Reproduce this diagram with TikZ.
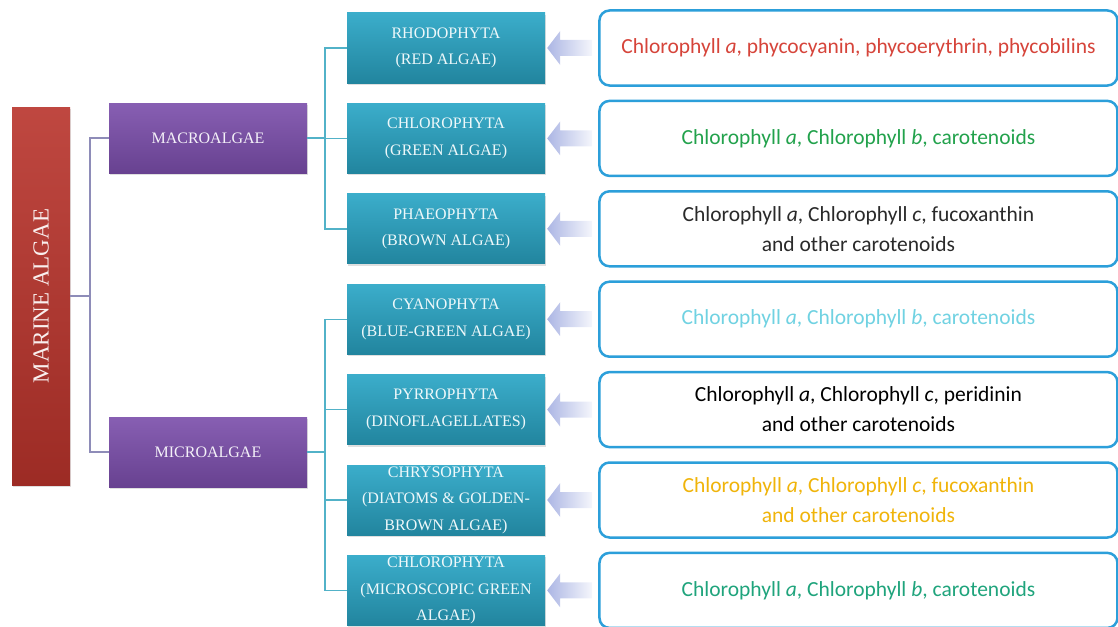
\documentclass[tikz,border=0pt]{standalone}
\usepackage{fontspec}
\setmainfont{Liberation Serif}
\newfontfamily\pigfont{Carlito}
\usetikzlibrary{positioning,shadows,calc}

\definecolor{algred}{HTML}{B8332B}
\definecolor{algviolet}{HTML}{7A4DAA}
\definecolor{algteal}{HTML}{2AA6C6}
\definecolor{boxblue}{HTML}{2C9FDA}
\definecolor{arrowblue}{HTML}{ACB6E4}
\definecolor{treeviolet}{HTML}{8E8CB8}
\definecolor{treeteal}{HTML}{52B2C8}
\definecolor{pigred}{HTML}{D6443A}
\definecolor{piggreen}{HTML}{22A24C}
\definecolor{pigdark}{HTML}{2A2A2A}
\definecolor{pigcyan}{HTML}{70D2E2}
\definecolor{piggold}{HTML}{F0B40A}
\definecolor{pigteal}{HTML}{1FA47C}

% fat arrow from pigment box #2 back to phylum box #1
\newcommand{\fatarrow}[2]{%
  \shade[left color=arrowblue, right color=arrowblue!12]
    ($(#1.east)+(2,0)$) -- ++(13,-17) -- ++(0,9)
    -- ($(#2.west)+(-6,-8)$) -- ++(0,16)
    -- ($(#1.east)+(15,8)$) -- ++(0,9) -- cycle;}

\begin{document}
\begin{tikzpicture}[%
    x=1pt, y=-1pt,
    node distance=20pt,
    kingdom/.style={%
      top color=algred!90!white,
      bottom color=algred!85!black,
      minimum width=58pt,
      minimum height=378pt,
      inner sep=0pt,
      text=white!92!algred,
      font=\fontsize{23}{26}\selectfont,
      drop shadow={opacity=.25,shadow xshift=1pt,shadow yshift=-2pt}},
    group/.style={%
      top color=algviolet!90!white,
      bottom color=algviolet!85!black,
      minimum width=198pt,
      minimum height=70pt,
      inner sep=0pt,
      text=white!92!algviolet,
      font=\fontsize{16}{20}\selectfont,
      drop shadow={opacity=.25,shadow xshift=1pt,shadow yshift=-2pt}},
    phylum/.style={%
      top color=algteal!92!white,
      bottom color=algteal!80!black,
      minimum width=198pt,
      minimum height=70pt,
      inner sep=0pt,
      align=center,
      text=white!92!algteal,
      font=\fontsize{16}{26.5}\selectfont,
      drop shadow={opacity=.25,shadow xshift=1pt,shadow yshift=-2pt}},
    pigbox/.style={%
      draw=boxblue,
      line width=2.5pt,
      rounded corners=10pt,
      fill=white,
      minimum width=518pt,
      minimum height=75pt,
      align=center,
      font=\pigfont\fontsize{21.5}{30}\selectfont},
    treeline/.style={draw=treeviolet, line width=1.4pt},
    subline/.style={draw=treeteal, line width=1.4pt}
    ]
    \useasboundingbox (0,0) rectangle (1118,626);

    \node[kingdom] (marine) at (41,296) {\rotatebox{90}{MARINE ALGAE}};
    \node[group] (macro) at (208,138) {MACROALGAE};
    \node[group] (micro) at (208,452) {MICROALGAE};

    \node[phylum] (rho) at (446,48) {RHODOPHYTA\\(RED ALGAE)};
    \node[phylum] (chl) [below=of rho] {CHLOROPHYTA\\(GREEN ALGAE)};
    \node[phylum] (pha) [below=of chl] {PHAEOPHYTA\\(BROWN ALGAE)};
    \node[phylum] (cya) [below=of pha] {CYANOPHYTA\\(BLUE-GREEN ALGAE)};
    \node[phylum] (pyr) [below=of cya] {PYRROPHYTA\\(DINOFLAGELLATES)};
    \node[phylum] (chr) [below=of pyr] {CHRYSOPHYTA\\(DIATOMS \& GOLDEN-\\BROWN ALGAE)};
    \node[phylum] (chm) [below=of chr] {CHLOROPHYTA\\(MICROSCOPIC GREEN\\ALGAE)};

    \node[pigbox,text=pigred] (p1) [right=53pt of rho]
      {Chlorophyll \textit{a}, phycocyanin, phycoerythrin, phycobilins};
    \node[pigbox,text=piggreen] (p2) [right=53pt of chl]
      {Chlorophyll \textit{a}, Chlorophyll \textit{b}, carotenoids};
    \node[pigbox,text=pigdark] (p3) [right=53pt of pha]
      {Chlorophyll \textit{a}, Chlorophyll \textit{c}, fucoxanthin\\and other carotenoids};
    \node[pigbox,text=pigcyan] (p4) [right=53pt of cya]
      {Chlorophyll \textit{a}, Chlorophyll \textit{b}, carotenoids};
    \node[pigbox,text=black] (p5) [right=53pt of pyr]
      {Chlorophyll \textit{a}, Chlorophyll \textit{c}, peridinin\\and other carotenoids};
    \node[pigbox,text=piggold] (p6) [right=53pt of chr]
      {Chlorophyll \textit{a}, Chlorophyll \textit{c}, fucoxanthin\\and other carotenoids};
    \node[pigbox,text=pigteal] (p7) [right=53pt of chm]
      {Chlorophyll \textit{a}, Chlorophyll \textit{b}, carotenoids};

    % tree on the left
    \draw[treeline] (marine.east) -- ++(20,0);
    \draw[treeline] (macro.west) -- ++(-19,0) |- (micro.west);

    % tree on the right
    \draw[subline] (macro.east) -- ++(18,0);
    \draw[subline] (rho.west) -- ++(-22,0) |- (pha.west);
    \draw[subline] (chl.west) -- ++(-22,0);
    \draw[subline] (micro.east) -- ++(18,0);
    \draw[subline] (cya.west) -- ++(-22,0) |- (chm.west);
    \draw[subline] (pyr.west) -- ++(-22,0);
    \draw[subline] (chr.west) -- ++(-22,0);

    \fatarrow{rho}{p1}
    \fatarrow{chl}{p2}
    \fatarrow{pha}{p3}
    \fatarrow{cya}{p4}
    \fatarrow{pyr}{p5}
    \fatarrow{chr}{p6}
    \fatarrow{chm}{p7}
  \end{tikzpicture}
\end{document}
